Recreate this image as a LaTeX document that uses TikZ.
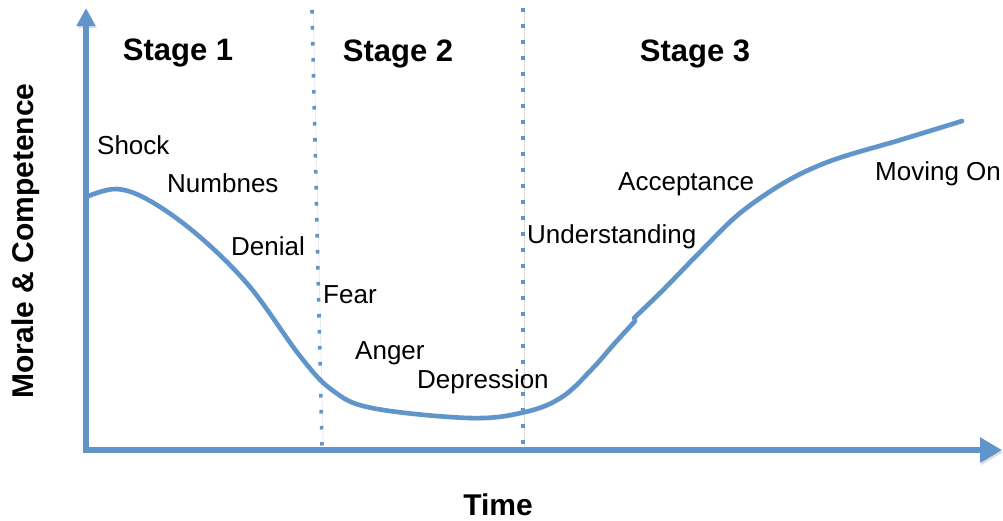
\documentclass[tikz,border=0pt]{standalone}
\usepackage{fontspec}
\setmainfont{Liberation Sans}
\usetikzlibrary{arrows.meta}
\definecolor{lineblue}{RGB}{96,149,204}
\tikzset{
  shadowed/.style={preaction={draw=black,draw opacity=0.14,transform canvas={shift={(1.2pt,-2.2pt)}}}},
  axisline/.style={draw=lineblue,line width=6pt,line join=miter},
  curveline/.style={draw=lineblue,line width=4.6pt,line cap=round},
  dotline/.style={draw=lineblue,line width=3.6pt,dash pattern=on 3.6pt off 12.4pt},
  lbl/.style={font=\fontsize{26}{30}\selectfont,anchor=base west,inner sep=0pt,text=black},
  stagelbl/.style={font=\bfseries\fontsize{31}{36}\selectfont,anchor=base,inner sep=0pt,text=black},
  axislbl/.style={font=\bfseries\fontsize{30}{36}\selectfont,anchor=base,inner sep=0pt,text=black}
}
\begin{document}
\begin{tikzpicture}[x=1pt,y=-1pt]
\useasboundingbox (0,0) rectangle (1003,520);

% stage separators
\coordinate (s1top) at (312,10);
\coordinate (s1bot) at (322,446);
\coordinate (s2top) at (523,8);
\coordinate (s2bot) at (523,444);
\draw[dotline,shadowed] (s1top) -- (s1bot);
\draw[dotline,shadowed] (s2top) -- (s2bot);

% axes
\coordinate (ytip) at (86,8);
\coordinate (origin) at (86,450);
\coordinate (xtip) at (1002,450);
\draw[axisline,shadowed,arrows={Triangle[length=18pt,width=18pt]-Triangle[length=22pt,width=24pt]}]
  (ytip) -- (origin) -- (xtip);

% change curve, falling part
\draw[curveline,shadowed] plot[smooth,tension=0.6] coordinates {
  (86,197) (117,189) (152,202) (200,237) (250,287) (300,356)
  (332,390) (372,408) (470,418) (525,412) (562,397) (592,369)
  (614,344) (635,321)};
% change curve, rising part
\draw[curveline,shadowed] plot[smooth,tension=0.55] coordinates {
  (634,318) (663,290) (700,252) (740,213) (787,181) (833,160) (900,140) (962,121)};

% stage titles
\node[stagelbl] (st1) at (178,60) {Stage 1};
\node[stagelbl] (st2) at (398,61) {Stage 2};
\node[stagelbl] (st3) at (695,61) {Stage 3};

% phase labels
\node[lbl] (shock) at (97,154) {Shock};
\node[lbl] (numb) at (167,192) {Numbnes};
\node[lbl] (denial) at (231,255) {Denial};
\node[lbl] (fear) at (323,303) {Fear};
\node[lbl] (anger) at (355,359) {Anger};
\node[lbl] (depr) at (417,388) {Depression};
\node[lbl] (under) at (527,243) {Understanding};
\node[lbl] (accept) at (618,190) {Acceptance};
\node[lbl] (moving) at (875,180) {Moving On};

% axis titles
\node[axislbl,rotate=90] (ylab) at (33,241) {Morale \& Competence};
\node[axislbl] (xlab) at (498,515) {Time};
\end{tikzpicture}
\end{document}
